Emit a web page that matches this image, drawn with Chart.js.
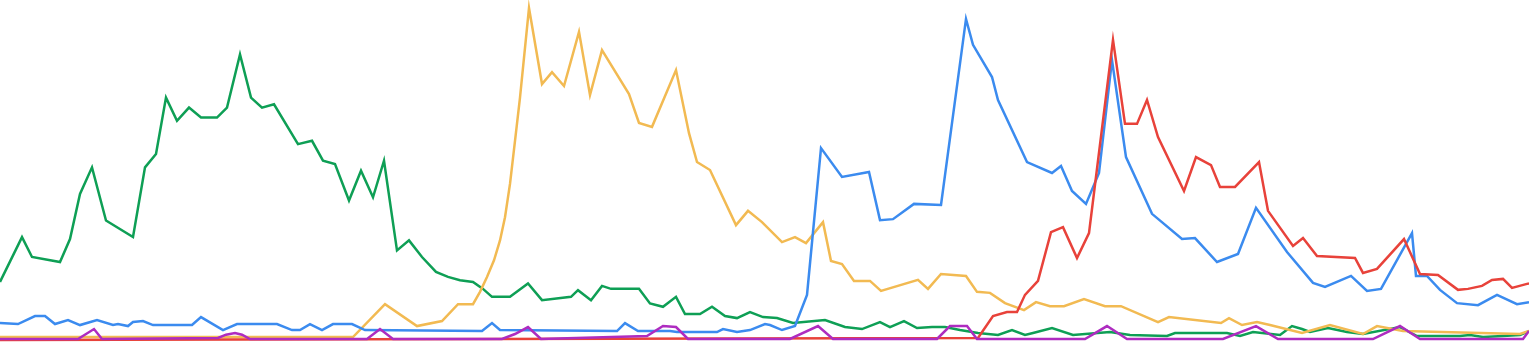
<!DOCTYPE html>
<html>
<head>
<meta charset="utf-8">
<script src="https://cdn.jsdelivr.net/npm/chart.js@4/dist/chart.umd.min.js"></script>
<style>
  html, body { margin: 0; padding: 0; background: #fff; }
  #wrap { width: 1529px; height: 343px; }
</style>
</head>
<body>
<div id="wrap"><canvas id="chart"></canvas></div>
<script>
// time positions (t) and interest values (0-100) per series
const greenT = [0, 22, 32, 60, 70, 80, 92, 106, 133, 145, 156, 166, 177, 189, 201, 217, 227, 240, 251, 262, 274, 298, 312, 323, 335, 349, 361, 373, 384, 397, 409, 422, 436, 448, 460, 473, 483, 492, 510, 528, 542, 571, 578, 591, 602, 611, 639, 650, 663, 676, 685, 700, 712, 725, 737, 750, 763, 777, 793, 825, 845, 862, 880, 890, 904, 917, 932, 945, 960, 978, 998, 1012, 1025, 1033, 1052, 1073, 1110, 1130, 1167, 1175, 1227, 1240, 1253, 1280, 1292, 1302, 1310, 1328, 1347, 1363, 1400, 1417, 1460, 1470, 1483, 1503, 1520, 1529];
const greenV = [17.5, 31, 25, 23.5, 30.4, 44, 52, 36, 31, 52, 56, 73, 66, 70, 67, 67, 70, 86, 73, 70, 71, 59, 60, 54, 53, 42, 51, 43, 54, 27, 30, 25, 20.5, 19, 18, 17.5, 15.4, 13, 13, 17, 12, 13, 15, 12, 16.3, 15.4, 15.4, 11, 10, 13, 7.8, 7.8, 10, 7.2, 6.6, 8.4, 6.9, 6.6, 5.1, 6, 3.9, 3.3, 5.4, 3.9, 5.7, 3.6, 3.9, 3.9, 3, 2.1, 1.5, 3, 1.5, 2.1, 3.6, 1.5, 2.4, 1.5, 1.2, 2.1, 2.1, 1.2, 2.4, 1.5, 4.2, 3.3, 2.4, 3.6, 2.4, 1.8, 3.9, 1.2, 1.2, 1.5, 0.9, 1.2, 1.5, 2.7];

const yellowT = [0, 353, 385, 417, 442, 458, 473, 480, 487, 494, 500, 505, 510, 515, 520, 529, 542, 552, 564, 579, 590, 602, 629, 639, 652, 676, 689, 697, 710, 736, 748, 762, 782, 795, 806, 823, 831, 842, 854, 870, 881, 918, 928, 941, 966, 977, 990, 1005, 1024, 1036, 1050, 1064, 1084, 1105, 1121, 1158, 1169, 1221, 1229, 1242, 1257, 1270, 1302, 1330, 1363, 1377, 1403, 1520, 1529];
const yellowV = [0.9, 0.9, 10.8, 4.2, 5.7, 10.8, 10.8, 14.5, 19, 24, 30, 37, 47, 60, 73, 100, 77.1, 80.7, 76.5, 92.8, 73.8, 87.3, 74.1, 65.4, 64.2, 81.3, 62.3, 53.6, 51.2, 34.6, 38.9, 35.5, 29.5, 31, 29.2, 35.5, 23.8, 22.9, 17.8, 17.8, 14.8, 18.1, 15.4, 19.9, 19.3, 14.5, 14.2, 11.1, 9, 11.4, 10.2, 10.2, 12.3, 10.2, 10.2, 5.4, 6.9, 5.1, 6.6, 4.5, 5.4, 4.5, 2.1, 4.5, 1.8, 4.2, 2.7, 1.8, 2.7];

const blueT = [0, 18, 35, 45, 55, 68, 80, 97, 113, 118, 128, 133, 143, 153, 192, 201, 223, 237, 277, 292, 300, 310, 322, 333, 352, 365, 482, 492, 500, 617, 625, 638, 670, 677, 717, 723, 737, 750, 765, 770, 782, 795, 807, 821, 842, 869, 880, 893, 914, 941, 966, 973, 992, 998, 1027, 1052, 1061, 1072, 1086, 1099, 1112, 1126, 1152, 1182, 1195, 1217, 1238, 1256, 1287, 1313, 1325, 1351, 1367, 1381, 1412, 1416, 1427, 1440, 1457, 1478, 1497, 1517, 1529];
const blueV = [5.1, 4.8, 7.2, 7.2, 4.8, 6, 4.5, 6, 4.5, 4.8, 4.2, 5.4, 5.7, 4.5, 4.5, 6.9, 3, 4.8, 4.8, 3, 3, 4.8, 3, 4.8, 4.8, 3, 2.7, 5.1, 3, 2.7, 5.1, 2.7, 2.7, 2.4, 2.4, 3.3, 2.4, 3, 4.8, 4.5, 3, 4.2, 13.6, 57.8, 49.1, 50.6, 36.1, 36.4, 41, 40.7, 96.7, 88.9, 79.2, 72.3, 53.6, 50.3, 52.4, 44.9, 41, 50.3, 84.3, 55.1, 38, 30.4, 30.7, 23.5, 25.9, 39.8, 26.5, 17.2, 16, 19.3, 14.8, 15.4, 32.2, 19.3, 19.3, 15.1, 11.1, 10.5, 13.6, 10.8, 11.4];

const redT = [0, 978, 993, 1007, 1017, 1025, 1038, 1051, 1063, 1077, 1089, 1113, 1125, 1137, 1147, 1158, 1184, 1196, 1211, 1220, 1235, 1259, 1268, 1293, 1303, 1317, 1355, 1363, 1377, 1404, 1420, 1438, 1458, 1468, 1482, 1492, 1503, 1512, 1527, 1529];
const redV = [0, 0.6, 7.2, 8.4, 8.4, 13.6, 17.8, 32.5, 34, 24.7, 32.2, 90.4, 65.1, 65.1, 72.3, 61.1, 44.9, 55.1, 52.7, 46.1, 46.1, 53.6, 38.9, 28.3, 30.7, 25.3, 24.7, 20.2, 21.4, 30.4, 19.9, 19.6, 15.1, 15.4, 16.3, 18.1, 18.4, 15.7, 16.9, 17];

const purpleT = [0, 78, 94, 102, 218, 226, 235, 242, 250, 367, 380, 393, 502, 515, 528, 541, 647, 663, 676, 688, 790, 818, 833, 937, 950, 967, 977, 1085, 1107, 1127, 1223, 1256, 1278, 1373, 1400, 1420, 1523, 1529];
const purpleV = [0.3, 0.3, 3.3, 0.3, 0.6, 1.6, 2.1, 1.6, 0.3, 0.3, 3.3, 0.3, 0.3, 1.8, 3.9, 0.3, 1.2, 4.2, 3.9, 0.3, 0.3, 4.2, 0.3, 0.3, 4.2, 4.2, 0.3, 0.3, 4.2, 0.3, 0.3, 4.2, 0.3, 0.3, 4.2, 0.3, 0.3, 2.7];

const toPoints = (ts, vs) => ts.map((t, i) => ({ x: t, y: vs[i] }));

const series = [
  { name: 'purple', color: '#AE2CC0', t: purpleT, v: purpleV },
  { name: 'red', color: '#E8423A', t: redT, v: redV },
  { name: 'blue', color: '#3B8BEF', t: blueT, v: blueV },
  { name: 'yellow', color: '#F2BA52', t: yellowT, v: yellowV },
  { name: 'green', color: '#0E9F55', t: greenT, v: greenV }
];

new Chart(document.getElementById('chart'), {
  type: 'line',
  data: {
    datasets: series.map(s => ({
      label: s.name,
      data: toPoints(s.t, s.v),
      borderColor: s.color,
      backgroundColor: s.color,
      borderWidth: 2.5,
      pointRadius: 0,
      tension: 0,
      fill: false
    }))
  },
  options: {
    responsive: true,
    maintainAspectRatio: false,
    animation: false,
    layout: { padding: 0 },
    plugins: { legend: { display: false }, tooltip: { enabled: false } },
    scales: {
      x: { type: 'linear', min: 0, max: 1529, display: false },
      y: { min: -0.904, max: 102.41, display: false }
    }
  }
});
</script>
</body>
</html>
